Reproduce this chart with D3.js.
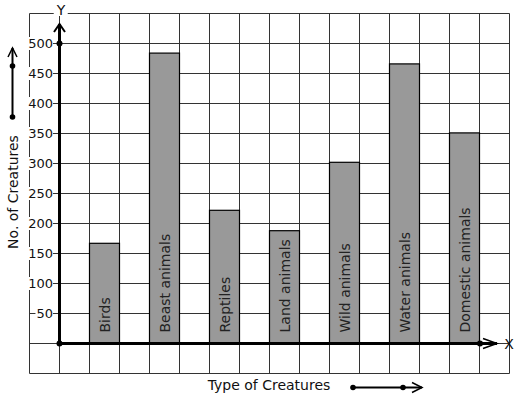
<!DOCTYPE html>
<html><head><meta charset="utf-8">
<script src="https://cdn.jsdelivr.net/npm/d3@7"></script>
<style>html,body{margin:0;padding:0;background:#fff;}svg{display:block;}</style>
</head><body>
<svg id="c" width="517" height="399"></svg>
<script>
const categories = ["Birds","Beast animals","Reptiles","Land animals","Wild animals","Water animals","Domestic animals"];
const values = [167, 484, 222, 188, 302, 466, 351];
const yTicks = [50,100,150,200,250,300,350,400,450,500];
const xTitle = "Type of Creatures";
const yTitle = "No. of Creatures";

const svg = d3.select("#c");
const font = "DejaVu Sans, sans-serif";

const x = d3.scaleBand().domain(categories).range([59.5, 509.5]).paddingInner(0.5).paddingOuter(0.5);
const y = d3.scaleLinear().domain([0, 500]).range([343.5, 43.5]);
const gx = d3.scaleLinear().domain([0, 16]).range([29.5, 509.5]);

// grid
const g = svg.append("g").attr("stroke", "#333").attr("stroke-width", 1);
d3.range(0, 17).forEach(k => g.append("line").attr("x1", gx(k)).attr("x2", gx(k)).attr("y1", y(550)).attr("y2", y(-50)));
d3.range(-50, 551, 50).forEach(v => g.append("line").attr("x1", gx(0)).attr("x2", gx(16)).attr("y1", y(v)).attr("y2", y(v)));

// bars
svg.append("g").selectAll("rect").data(categories).join("rect")
  .attr("x", d => x(d)).attr("width", x.bandwidth())
  .attr("y", (d, i) => y(values[i])).attr("height", (d, i) => y(0) - y(values[i]))
  .attr("fill", "#999").attr("stroke", "#000").attr("stroke-width", 1.2);

// bar labels
svg.append("g").selectAll("text").data(categories).join("text")
  .attr("transform", d => `translate(${x(d) + x.bandwidth() / 2 + 5},${y(0) - 11}) rotate(-90)`)
  .attr("font-family", font).attr("font-size", 14).attr("fill", "#222")
  .text(d => d);

// y tick labels with white background
const tl = svg.append("g");
const bgLayer = tl.append("g");
const txtLayer = tl.append("g");
yTicks.forEach(v => {
  const t = txtLayer.append("text").attr("x", 53).attr("y", y(v) + 4.5)
    .attr("text-anchor", "end").attr("font-family", font).attr("font-size", 13).attr("fill", "#111").text(v);
  const b = t.node().getBBox();
  bgLayer.append("rect").attr("x", b.x - 1).attr("y", b.y + 1).attr("width", b.width + 1).attr("height", b.height - 2).attr("fill", "#fff");
});

// axes
const ax = svg.append("g").attr("stroke", "#000").attr("fill", "none");
ax.append("line").attr("x1", 59.5).attr("x2", 59.5).attr("y1", y(0)).attr("y2", 24).attr("stroke-width", 3);
ax.append("path").attr("d", "M54,32 L59.5,24 L65,32").attr("stroke-width", 2);
ax.append("line").attr("x1", 59.5).attr("x2", 497).attr("y1", y(0)).attr("y2", y(0)).attr("stroke-width", 3);
ax.append("path").attr("d", `M483,${y(0) - 5} L497,${y(0)} L483,${y(0) + 5}`).attr("stroke-width", 1.5);
[[59.5, y(0)], [59.5, y(500)], [480, y(0)]].forEach(p => svg.append("circle").attr("cx", p[0]).attr("cy", p[1]).attr("r", 3).attr("fill", "#000"));

// Y and X letters
const yg = svg.append("g");
const ybg = yg.append("g");
const yl = yg.append("text").attr("x", 61).attr("y", 15).attr("text-anchor", "middle").attr("font-family", font).attr("font-size", 14).attr("fill", "#111").text("Y");
const yb = yl.node().getBBox();
ybg.append("rect").attr("x", yb.x - 2).attr("y", 11).attr("width", yb.width + 4).attr("height", 5).attr("fill", "#fff");
svg.append("text").attr("x", 509).attr("y", y(0) + 5).attr("text-anchor", "middle").attr("font-family", font).attr("font-size", 14).attr("fill", "#111").text("X");

// titles
svg.append("text").attr("x", 269).attr("y", 390).attr("text-anchor", "middle").attr("font-family", font).attr("font-size", 14).attr("fill", "#111").text(xTitle);
svg.append("text").attr("transform", "translate(18,192) rotate(-90)").attr("text-anchor", "middle").attr("font-family", font).attr("font-size", 14).attr("fill", "#111").text(yTitle);

// decorative arrows
const da = svg.append("g").attr("stroke", "#000").attr("fill", "none");
da.append("line").attr("x1", 353).attr("x2", 422).attr("y1", 387.5).attr("y2", 387.5).attr("stroke-width", 2);
da.append("path").attr("d", "M412,382.5 L422,387.5 L412,392.5").attr("stroke-width", 1.5);
[[353, 387.5], [403, 387.5]].forEach(p => svg.append("circle").attr("cx", p[0]).attr("cy", p[1]).attr("r", 2.8).attr("fill", "#000"));
da.append("line").attr("x1", 12.5).attr("x2", 12.5).attr("y1", 117).attr("y2", 48).attr("stroke-width", 2);
da.append("path").attr("d", "M8,57 L12.5,48 L17,57").attr("stroke-width", 1.5);
[[12.5, 117], [12.5, 66]].forEach(p => svg.append("circle").attr("cx", p[0]).attr("cy", p[1]).attr("r", 2.8).attr("fill", "#000"));
</script>
</body></html>
